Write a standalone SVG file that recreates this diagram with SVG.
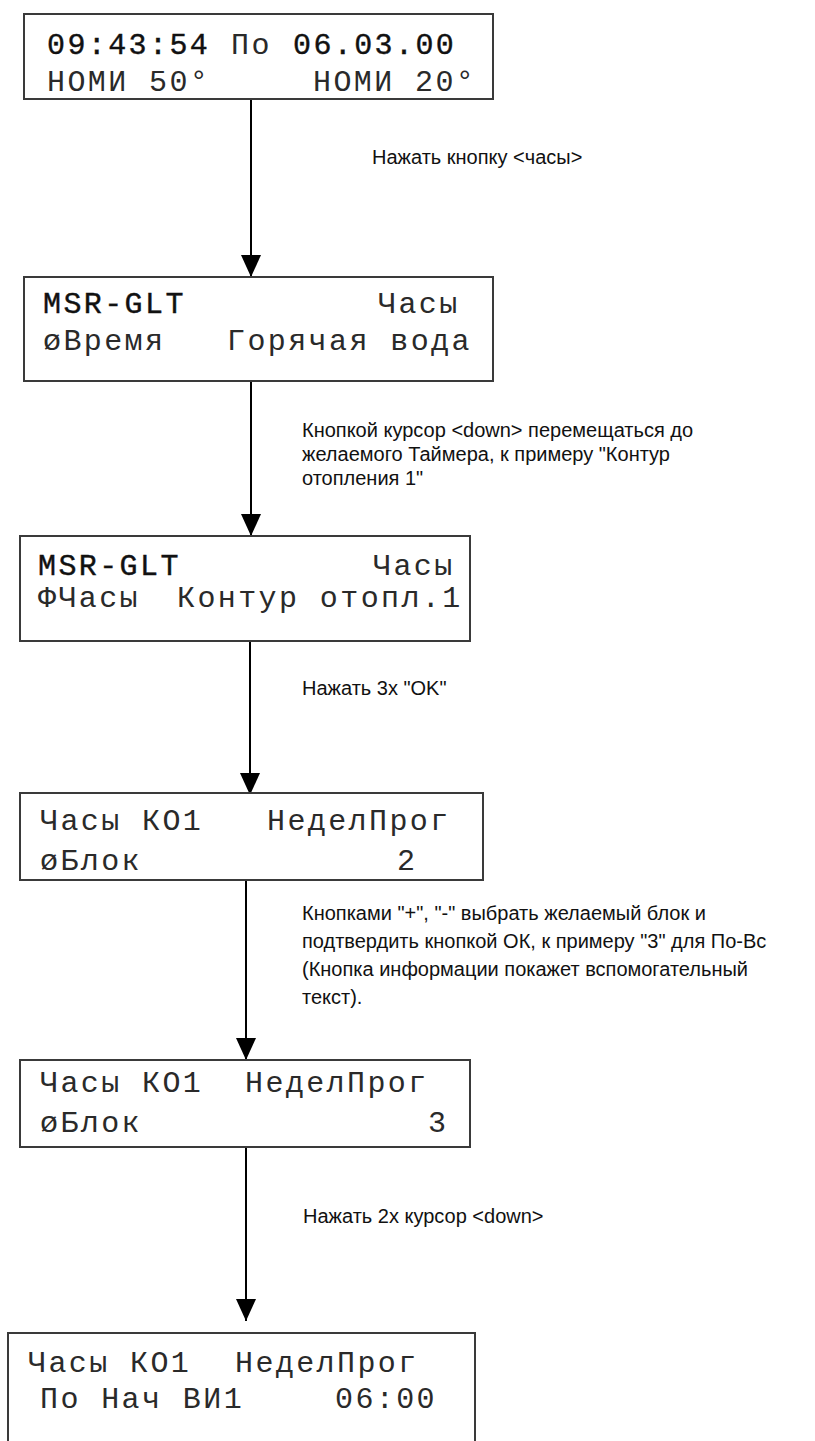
<svg xmlns="http://www.w3.org/2000/svg" width="815" height="1441" viewBox="0 0 815 1441">
<defs>
<style>
.box{fill:#fff;stroke:#3a3a3a;stroke-width:2}
.lcd{font-family:"Liberation Mono","Courier New",monospace;font-size:30px;letter-spacing:2.4px;fill:#2a2a2a;white-space:pre}
.b{fill:#111;stroke:#111;stroke-width:0.4}
.lbl{font-family:"Liberation Sans",Arial,sans-serif;font-size:20px;fill:#111}
.conn{stroke:#000;stroke-width:2;fill:none}
</style>
<marker id="ah" viewBox="0 0 22 20" refX="22" refY="10" markerWidth="22" markerHeight="20" markerUnits="userSpaceOnUse" orient="auto">
<path d="M0,0 L22,10 L0,20 Z" fill="#000"/>
</marker>
</defs>
<rect width="815" height="1441" fill="#fff"/>

<g id="connectors">
<line class="conn" x1="251" y1="99" x2="251" y2="277" marker-end="url(#ah)"/>
<line class="conn" x1="251" y1="381" x2="251" y2="536" marker-end="url(#ah)"/>
<line class="conn" x1="250" y1="641" x2="250" y2="795" marker-end="url(#ah)"/>
<line class="conn" x1="246" y1="880" x2="246" y2="1060" marker-end="url(#ah)"/>
<line class="conn" x1="246" y1="1147" x2="246" y2="1321" marker-end="url(#ah)"/>
</g>

<g id="labels">
<text class="lbl" x="372" y="164">Нажать кнопку &lt;часы&gt;</text>
<text class="lbl" x="302" y="437">Кнопкой курсор &lt;down&gt; перемещаться до</text>
<text class="lbl" x="302" y="461">желаемого Таймера, к примеру "Контур</text>
<text class="lbl" x="302" y="485">отопления 1"</text>
<text class="lbl" x="302" y="695">Нажать 3x "OK"</text>
<text class="lbl" x="302" y="920">Кнопками "+", "-" выбрать желаемый блок и</text>
<text class="lbl" x="302" y="948">подтвердить кнопкой ОК, к примеру "3" для По-Вс</text>
<text class="lbl" x="302" y="976">(Кнопка информации покажет вспомогательный</text>
<text class="lbl" x="302" y="1004">текст).</text>
<text class="lbl" x="303" y="1223">Нажать 2x курсор &lt;down&gt;</text>
</g>

<g id="node1">
<rect class="box" x="24" y="14" width="469" height="85"/>
<text class="lcd b" x="47" y="54">09:43:54</text>
<text class="lcd" x="231" y="54">По</text>
<text class="lcd b" x="293" y="54">06.03.00</text>
<text class="lcd" x="47" y="91">НОМИ 50°</text>
<text class="lcd" x="313" y="91">НОМИ 20°</text>
</g>

<g id="node2">
<rect class="box" x="24" y="277" width="469" height="104"/>
<text class="lcd b" x="43" y="313">MSR-GLT</text>
<text class="lcd" x="378" y="313">Часы</text>
<text class="lcd" x="43" y="350">øВремя</text>
<text class="lcd" x="227" y="350">Горячая вода</text>
</g>

<g id="node3">
<rect class="box" x="20" y="536" width="450" height="105"/>
<text class="lcd b" x="38" y="575">MSR-GLT</text>
<text class="lcd" x="373" y="575">Часы</text>
<text class="lcd" x="38" y="607">ΦЧасы</text>
<text class="lcd" x="177" y="607">Контур отопл.1</text>
</g>

<g id="node4">
<rect class="box" x="20" y="793" width="463" height="87"/>
<text class="lcd" x="40" y="830">Часы КО1</text>
<text class="lcd" x="267" y="830">НеделПрог</text>
<text class="lcd" x="40" y="870">øБлок</text>
<text class="lcd" x="397" y="870">2</text>
</g>

<g id="node5">
<rect class="box" x="20" y="1060" width="450" height="87"/>
<text class="lcd" x="40" y="1092">Часы КО1</text>
<text class="lcd" x="245" y="1092">НеделПрог</text>
<text class="lcd" x="40" y="1132">øБлок</text>
<text class="lcd" x="428" y="1132">3</text>
</g>

<g id="node6">
<rect class="box" x="8" y="1333" width="467" height="130"/>
<text class="lcd" x="28" y="1372">Часы КО1</text>
<text class="lcd" x="235" y="1372">НеделПрог</text>
<text class="lcd" x="40" y="1408">По Нач ВИ1</text>
<text class="lcd" x="335" y="1408">06:00</text>
</g>
</svg>
